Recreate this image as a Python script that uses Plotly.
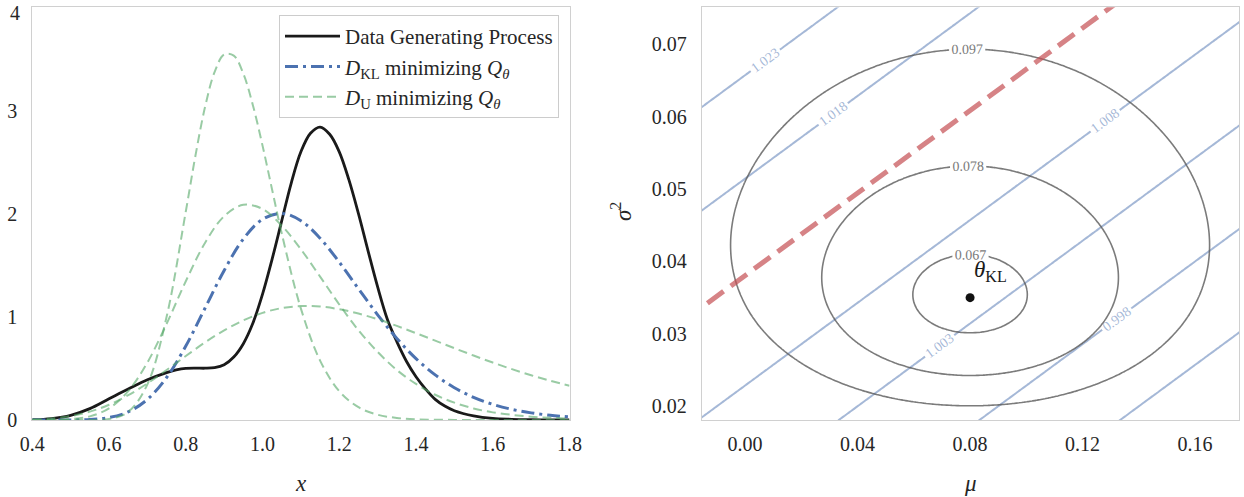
import numpy as np
import plotly.graph_objects as go

SERIF = "Liberation Serif"

# ---------------- Left panel data ----------------
x_dgp = [0.40, 0.45, 0.50, 0.55, 0.60, 0.65, 0.70, 0.75, 0.775, 0.80, 0.825, 0.85, 0.875,
         0.90, 0.925, 0.95, 0.975, 1.00, 1.025, 1.05, 1.075, 1.10, 1.125, 1.15, 1.175,
         1.20, 1.225, 1.25, 1.275, 1.30, 1.325, 1.35, 1.375, 1.40, 1.425, 1.45, 1.475,
         1.50, 1.55, 1.60, 1.65, 1.70, 1.75, 1.80]
y_dgp = [0.003, 0.014, 0.045, 0.11, 0.205, 0.30, 0.39, 0.46, 0.485, 0.50, 0.503, 0.502, 0.507,
         0.535, 0.61, 0.74, 0.94, 1.22, 1.56, 1.93, 2.30, 2.60, 2.78, 2.84, 2.77,
         2.60, 2.33, 2.00, 1.64, 1.29, 0.98, 0.76, 0.57, 0.42, 0.30, 0.20, 0.135,
         0.09, 0.04, 0.015, 0.007, 0.003, 0.001, 0.0]

x_grid = [0.40, 0.45, 0.50, 0.55, 0.60, 0.65, 0.70, 0.75, 0.80, 0.85, 0.90, 0.95,
          1.00, 1.05, 1.10, 1.15, 1.20, 1.25, 1.30, 1.35, 1.40, 1.45, 1.50, 1.55,
          1.60, 1.65, 1.70, 1.75, 1.80]
y_kl = [0.0, 0.0001, 0.0008, 0.0055, 0.024, 0.079, 0.200, 0.412, 0.717, 1.083,
        1.450, 1.755, 1.946, 2.003, 1.932, 1.762, 1.530, 1.273, 1.020, 0.791,
        0.595, 0.437, 0.313, 0.220, 0.152, 0.103, 0.069, 0.046, 0.030]

x_u1 = [0.40, 0.50, 0.55, 0.60, 0.65, 0.70, 0.75, 0.80, 0.825, 0.85, 0.875, 0.90,
        0.925, 0.95, 0.975, 1.00, 1.025, 1.05, 1.10, 1.15, 1.20, 1.25, 1.30, 1.35,
        1.40, 1.50, 1.60, 1.80]
y_u1 = [0.0, 0.0, 0.0007, 0.010, 0.078, 0.346, 1.000, 2.021, 2.559, 3.031, 3.372,
        3.543, 3.533, 3.357, 3.050, 2.660, 2.233, 1.810, 1.080, 0.576, 0.279,
        0.124, 0.051, 0.020, 0.007, 0.001, 0.0, 0.0]
y_u2 = [0.0001, 0.001, 0.008, 0.035, 0.113, 0.280, 0.558, 0.932, 1.345, 1.716,
        1.976, 2.086, 2.046, 1.884, 1.655, 1.39, 1.12, 0.87, 0.66, 0.485, 0.35,
        0.245, 0.168, 0.112, 0.074, 0.050, 0.032, 0.021, 0.014]
y_u3 = [0.0045, 0.0147, 0.038, 0.081, 0.148, 0.240, 0.355, 0.485, 0.620, 0.752,
        0.869, 0.966, 1.039, 1.085, 1.104, 1.100, 1.074, 1.032, 0.977, 0.912,
        0.842, 0.769, 0.696, 0.625, 0.557, 0.493, 0.434, 0.380, 0.332]
x_ticks_left = [0.4, 0.6, 0.8, 1.0, 1.2, 1.4, 1.6, 1.8]
y_ticks_left = [0, 1, 2, 3, 4]

# ---------------- Right panel data ----------------
theta_kl_mu = 0.08
theta_kl_sigma2 = 0.035
gray_levels = [0.067, 0.078, 0.097]
kl_offset = 0.065
kl_scale = 0.34
blue_base = 1.0
blue_sigma2_coef = 0.35
blue_mu_coef = -0.10
blue_levels_low = [0.993, 1.008]    # start, end (step 0.005)
blue_levels_high = [1.018, 1.028]
blue_step = 0.005
red_mu = [-0.03, 0.15]
red_sigma2 = [0.0295, 0.0808]
mu_ticks = [0.00, 0.04, 0.08, 0.12, 0.16]
sigma2_ticks = [0.02, 0.03, 0.04, 0.05, 0.06, 0.07]

mu_axis = np.linspace(-0.03, 0.19, 241)
s2_axis = np.linspace(0.012, 0.085, 241)
M, S = np.meshgrid(mu_axis, s2_axis)
kl_field = 0.5 * np.log(S / theta_kl_sigma2) + (theta_kl_sigma2 + (M - theta_kl_mu) ** 2) / (2 * S) - 0.5
z_gray = kl_offset + kl_scale * kl_field
z_blue = blue_base + blue_sigma2_coef * S + blue_mu_coef * M

BLACK = "#1a1a1a"
BLUE = "#4C72B0"
GREEN = "rgba(85,168,104,0.6)"

fig = go.Figure()

# left panel
fig.add_trace(go.Scatter(x=x_dgp, y=y_dgp, mode="lines", name="Data Generating Process",
                         line=dict(color=BLACK, width=2.8, shape="spline"), xaxis="x", yaxis="y"))
fig.add_trace(go.Scatter(x=x_grid, y=y_kl, mode="lines",
                         name="<i>D</i><sub>KL</sub> minimizing <i>Q</i><sub><i>θ</i></sub>",
                         line=dict(color=BLUE, width=3, shape="spline", dash="13px,5px,3px,5px"),
                         xaxis="x", yaxis="y"))
fig.add_trace(go.Scatter(x=x_u1, y=y_u1, mode="lines",
                         name="<i>D</i><sub>U</sub> minimizing <i>Q</i><sub><i>θ</i></sub>",
                         line=dict(color=GREEN, width=2, shape="spline", dash="9px,5px"),
                         xaxis="x", yaxis="y"))
fig.add_trace(go.Scatter(x=x_grid, y=y_u2, mode="lines", showlegend=False,
                         line=dict(color=GREEN, width=2, shape="spline", dash="9px,5px"),
                         xaxis="x", yaxis="y"))
fig.add_trace(go.Scatter(x=x_grid, y=y_u3, mode="lines", showlegend=False,
                         line=dict(color=GREEN, width=2, shape="spline", dash="9px,5px"),
                         xaxis="x", yaxis="y"))

# right panel: blue contours
for lo, hi in (blue_levels_low, blue_levels_high):
    fig.add_trace(go.Contour(
        x=mu_axis, y=s2_axis, z=z_blue, autocontour=False, showscale=False,
        contours=dict(start=lo, end=hi, size=blue_step, coloring="none", showlabels=True,
                      labelformat=".3f",
                      labelfont=dict(family=SERIF, size=14, color="rgba(76,114,176,0.5)")),
        line=dict(color="rgba(76,114,176,0.5)", width=2, smoothing=0),
        hoverinfo="skip", showlegend=False, xaxis="x2", yaxis="y2"))

# right panel: gray contours
for lvl in gray_levels:
    fig.add_trace(go.Contour(
        x=mu_axis, y=s2_axis, z=z_gray, autocontour=False, showscale=False,
        contours=dict(start=lvl, end=lvl, size=0.01, coloring="none", showlabels=True,
                      labelformat=".3f",
                      labelfont=dict(family=SERIF, size=14, color="#7a7a7a")),
        line=dict(color="rgba(90,90,90,0.8)", width=1.6),
        hoverinfo="skip", showlegend=False, xaxis="x2", yaxis="y2"))

fig.add_trace(go.Scatter(x=red_mu, y=red_sigma2, mode="lines", showlegend=False,
                         line=dict(color="rgba(196,78,82,0.7)", width=5, dash="20px,9px"),
                         xaxis="x2", yaxis="y2"))
fig.add_trace(go.Scatter(x=[theta_kl_mu], y=[theta_kl_sigma2], mode="markers", showlegend=False,
                         marker=dict(color="#111111", size=9), xaxis="x2", yaxis="y2"))

fig.add_annotation(x=theta_kl_mu, y=theta_kl_sigma2, xref="x2", yref="y2",
                   text="<i>θ</i><sub>KL</sub>", showarrow=False, xanchor="left", yanchor="bottom",
                   xshift=2, yshift=11, font=dict(family=SERIF, size=23, color="#1a1a1a"))

# axis titles
title_font = dict(family=SERIF, size=23, color="#262626")
fig.add_annotation(x=301 / 1244, y=1 - 483 / 497, xref="paper", yref="paper", text="<i>x</i>",
                   showarrow=False, xanchor="center", yanchor="middle", font=title_font)
fig.add_annotation(x=970 / 1244, y=1 - 483 / 497, xref="paper", yref="paper", text="<i>μ</i>",
                   showarrow=False, xanchor="center", yanchor="middle", font=title_font)
fig.add_annotation(x=621 / 1244, y=1 - 212 / 497, xref="paper", yref="paper",
                   text="<i>σ</i><sup>2</sup>", textangle=-90, xanchor="center", yanchor="middle",
                   showarrow=False, font=title_font)

tick_font = dict(family=SERIF, size=20, color="#262626")
# top tick label of the left panel sits at the very top edge: draw it just inside the page
fig.add_annotation(x=0, y=1, xref="x domain", yref="paper", text=str(y_ticks_left[-1]),
                   showarrow=False, xanchor="right", yanchor="top", xshift=-10, yshift=0,
                   font=tick_font)

axis_common = dict(showline=True, mirror=True, linecolor="#d0d0d0", linewidth=1.3,
                   showgrid=False, zeroline=False, ticks="", automargin=False,
                   tickfont=tick_font)
ydom = [1 - 420 / 497, 1 - 7.3 / 497]

fig.update_layout(
    width=1244, height=497,
    margin=dict(l=0, r=0, t=0, b=0),
    paper_bgcolor="white", plot_bgcolor="white",
    font=dict(family=SERIF),
    xaxis=dict(domain=[32.3 / 1244, 569.5 / 1244], range=[0.4, 1.8], tickmode="array",
               tickvals=x_ticks_left, tickformat=".1f", ticklabelstandoff=6, **axis_common),
    yaxis=dict(domain=ydom, range=[0, 4.001], tickmode="array", tickvals=y_ticks_left[:-1],
               ticklabelstandoff=10, **axis_common),
    xaxis2=dict(domain=[702 / 1244, 1239 / 1244], range=[-0.0153, 0.1756], tickmode="array",
                tickvals=mu_ticks, tickformat=".2f", anchor="y2", ticklabelstandoff=6, **axis_common),
    yaxis2=dict(domain=ydom, range=[0.0181, 0.0751], tickmode="array", tickvals=sigma2_ticks,
                tickformat=".2f", anchor="x2", ticklabelstandoff=10, **axis_common),
    legend=dict(x=559 / 1244, xanchor="right", y=1 - 15 / 497, yanchor="top",
                bgcolor="white", bordercolor="#cccccc", borderwidth=1, itemwidth=55,
                font=dict(family=SERIF, size=21, color="#262626"), tracegroupgap=0),
    showlegend=True,
)

fig.write_html("out.html", config={"displayModeBar": False},
               post_script="document.body.style.margin='0px';")
